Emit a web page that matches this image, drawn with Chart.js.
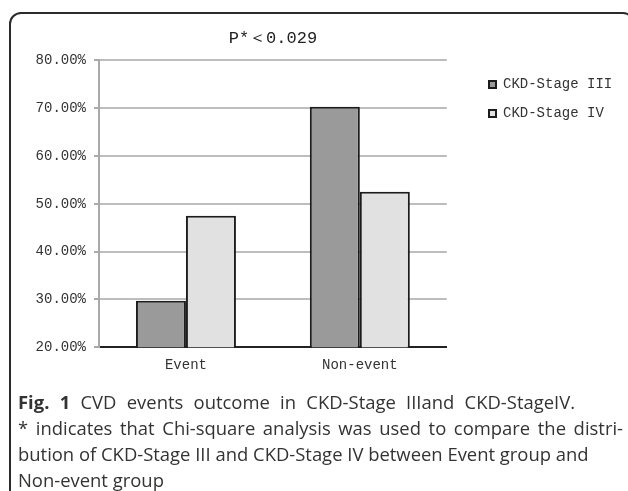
<!DOCTYPE html>
<html>
<head>
<meta charset="utf-8">
<script src="https://cdn.jsdelivr.net/npm/chart.js@4.4.1/dist/chart.umd.min.js"></script>
<style>
  html, body { margin: 0; padding: 0; background: #fff; overflow: hidden; width: 628px; height: 491px; }
  #frame { position: absolute; left: 9px; top: 12px; width: 626px; height: 600px; box-sizing: border-box;
           border: 2px solid #2b2b2b; border-radius: 12px; }
  #wrap { position: absolute; left: 0; top: 0; width: 628px; height: 390px; }
  #caption { position: absolute; left: 18px; top: 389px; color: #333; font-family: "Open Sans", sans-serif;
             font-size: 17px; line-height: 26px; }
  .ln { display: block; white-space: nowrap; }
  .just { text-align: justify; text-align-last: justify; white-space: normal; }
  #l1 { width: 557px; }
  #l2 { width: 605px; }
  #l3, #l4 { display: inline-block; }
</style>
</head>
<body>
<div id="frame"></div>
<div id="wrap"><canvas id="chart" width="628" height="390"></canvas></div>
<div id="caption">
  <span class="ln just" id="l1"><b>Fig. 1</b> CVD events outcome in CKD-Stage IIIand CKD-StageIV.</span>
  <span class="ln just" id="l2">* indicates that Chi-square analysis was used to compare the distri-</span>
  <span class="ln" id="l3">bution of CKD-Stage III and CKD-Stage IV between Event group and</span><br>
  <span class="ln" id="l4">Non-event group</span>
</div>
<script>
// Outcome groups and the share of each CKD stage in them (percent)
const categories = ['Event', 'Non-event'];
const seriesNames = ['CKD-Stage III', 'CKD-Stage IV'];
const stageIII = [29.7, 70.3];
const stageIV = [47.5, 52.5];
const yTickValues = [20, 30, 40, 50, 60, 70, 80];
const titleText = 'P*＜0.029';

const MONO = '"Liberation Mono", "DejaVu Sans Mono", monospace';
const GRID = '#bdbdbd';
const AXIS = '#a9a9a9';

// size the caption so its unjustified third line spans the figure width
(function fitCaption() {
  const cap = document.getElementById('caption');
  const l3 = document.getElementById('l3');
  const w = l3.getBoundingClientRect().width;
  const size = 17 * 571 / w;
  cap.style.fontSize = size.toFixed(2) + 'px';
})();

// legend sits a little further right and lower than the default box placement
const legendOffset = {
  id: 'legendOffset',
  afterLayout(chart) {
    const lg = chart.legend;
    const dx = 474 - lg.left;
    lg.left += dx;
    lg.right += dx;
    lg.top += 2;
    lg.bottom += 2;
  }
};

new Chart(document.getElementById('chart'), {
  type: 'bar',
  data: {
    labels: categories,
    datasets: [
      {
        label: seriesNames[0],
        data: stageIII,
        backgroundColor: '#9a9a9a',
        borderColor: '#1c1c1c',
        borderWidth: 2,
        barPercentage: 1,
        categoryPercentage: 0.575
      },
      {
        label: seriesNames[1],
        data: stageIV,
        backgroundColor: '#e1e1e1',
        borderColor: '#1c1c1c',
        borderWidth: 2,
        barPercentage: 1,
        categoryPercentage: 0.575
      }
    ]
  },
  options: {
    responsive: false,
    animation: false,
    devicePixelRatio: 1,
    layout: { padding: { top: 14, left: 0, right: 33, bottom: 6 } },
    plugins: {
      title: {
        display: true,
        text: titleText,
        fullSize: false,
        color: '#222',
        font: { family: MONO, size: 17, weight: 'normal' },
        padding: { top: 14, bottom: 12 }
      },
      legend: {
        position: 'right',
        align: 'start',
        fullSize: false,
        labels: {
          boxWidth: 7,
          boxHeight: 7,
          padding: 15,
          color: '#333',
          font: { family: MONO, size: 14 }
        }
      },
      tooltip: { enabled: false }
    },
    scales: {
      x: {
        grid: { display: false, drawTicks: false },
        border: { display: true, color: '#222', width: 2 },
        ticks: { color: '#333', padding: 10, font: { family: MONO, size: 14 } }
      },
      y: {
        min: yTickValues[0],
        max: yTickValues[yTickValues.length - 1],
        afterBuildTicks(scale) { scale.ticks = yTickValues.map(v => ({ value: v })); },
        afterFit(scale) { scale.width = 99; },
        ticks: {
          color: '#333',
          padding: 8,
          font: { family: MONO, size: 14 },
          callback: v => Number(v).toFixed(2) + '%'
        },
        grid: {
          color: c => (c.tick && c.tick.value === yTickValues[0]) ? 'rgba(0,0,0,0)' : GRID,
          lineWidth: 2,
          tickLength: 5,
          tickColor: AXIS,
          tickWidth: 2
        },
        border: { color: AXIS, width: 2 }
      }
    }
  },
  plugins: [legendOffset]
});
</script>
</body>
</html>
